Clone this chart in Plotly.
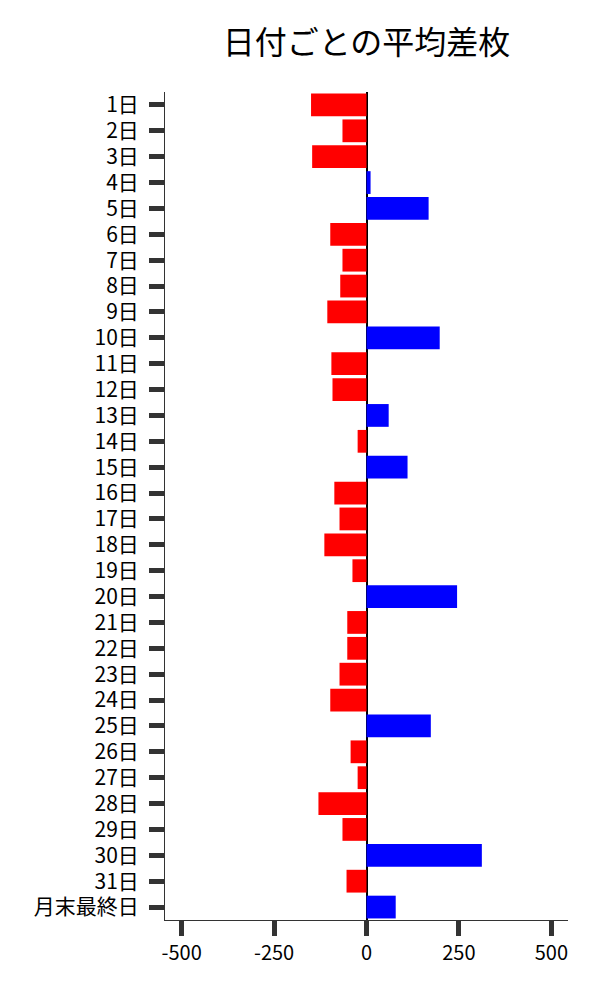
import plotly.graph_objects as go

categories = ["1日", "2日", "3日", "4日", "5日", "6日", "7日", "8日", "9日", "10日",
              "11日", "12日", "13日", "14日", "15日", "16日", "17日", "18日", "19日", "20日",
              "21日", "22日", "23日", "24日", "25日", "26日", "27日", "28日", "29日", "30日",
              "31日", "月末最終日"]
values = [-150, -65, -147, 11, 168, -98, -65, -71, -106, 198,
          -95, -92, 60, -24, 111, -87, -73, -114, -38, 245,
          -52, -52, -73, -98, 174, -43, -24, -130, -65, 312,
          -54, 79]
x_ticks = [-500, -250, 0, 250, 500]
title_text = "日付ごとの平均差枚"

colors = ["blue" if v > 0 else "red" for v in values]

font_family = "Noto Sans CJK JP"

fig = go.Figure(go.Bar(
    x=values, y=categories, orientation="h",
    marker=dict(color=colors, line=dict(width=0)),
    width=0.88,
))

fig.update_layout(
    width=600, height=1000,
    margin=dict(l=157, r=40, t=84, b=88, autoexpand=False),
    plot_bgcolor="white", paper_bgcolor="white",
    font=dict(family=font_family, size=20, color="black"),
    title=dict(text=title_text, x=0.5, xref="paper", xanchor="center",
               y=0.965, yref="container", yanchor="middle",
               font=dict(family=font_family, size=32, color="black")),
    showlegend=False,
)
fig.update_xaxes(
    range=[-545, 545], tickvals=x_ticks, ticktext=[str(t) for t in x_ticks],
    showgrid=False, zeroline=True, zerolinecolor="black", zerolinewidth=2,
    showline=True, linecolor="#333", linewidth=1,
    ticks="outside", ticklen=15, tickwidth=5, tickcolor="#333",
    tickfont=dict(size=20, family=font_family, color="black"),
    automargin=False,
)
fig.update_yaxes(
    autorange="reversed", categoryorder="array", categoryarray=categories,
    showgrid=False, showline=True, linecolor="#333", linewidth=1,
    ticks="outside", ticklen=15, tickwidth=5, tickcolor="#333",
    tickfont=dict(size=21, family=font_family, color="black"),
    ticklabelstandoff=6, automargin=False,
)

fig.write_html("out.html")
